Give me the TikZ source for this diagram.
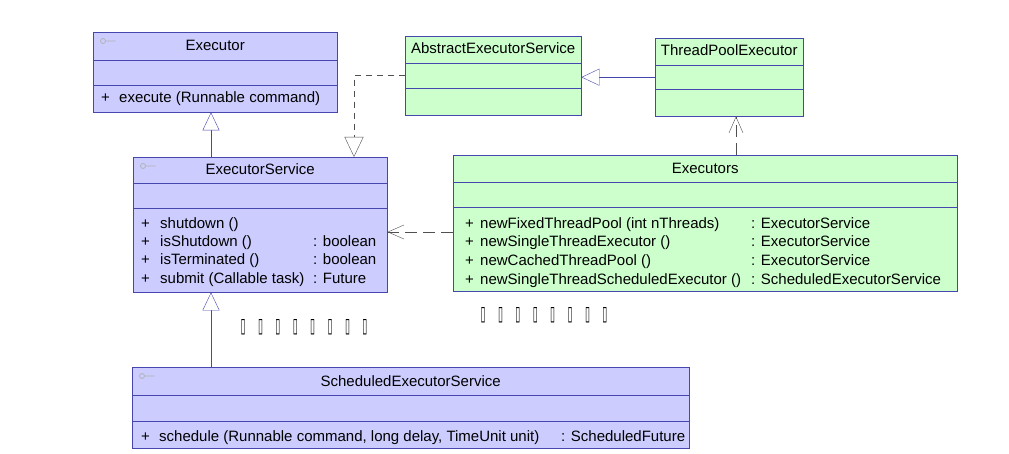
\documentclass[tikz,border=0pt]{standalone}
\usepackage{fontspec,graphicx}
\setmainfont{Liberation Sans}
\newfontfamily\dejavu{DejaVu Sans}
\usetikzlibrary{calc,arrows.meta}

\definecolor{umlblue}{RGB}{70,70,175}
\definecolor{ifacefill}{RGB}{204,204,255}
\definecolor{classfill}{RGB}{204,255,204}
\definecolor{depgray}{RGB}{80,80,80}

\newcommand{\tofu}{\resizebox{5pt}{13pt}{\dejavu ▯}}
\newcommand{\tofurow}{\tofu\foreach\k in {1,...,7}{\hspace{12.4pt}\tofu}}

\tikzset{
  iface/.style={draw=umlblue,fill=ifacefill,rectangle,inner sep=0pt,anchor=north west},
  cls/.style={draw=umlblue,fill=classfill,rectangle,inner sep=0pt,anchor=north west},
  txt/.style={inner sep=0pt,font=\fontsize{15}{17}\selectfont},
  op/.style={txt,anchor=base west},
  title/.style={txt,anchor=base},
  gen/.style={draw=umlblue,-{Triangle[open,length=18pt,width=17pt,fill=white]}},
  real/.style={draw=depgray,dash pattern=on 6pt off 5pt,-{Triangle[open,length=20pt,width=19pt,fill=white]}},
  dep/.style={draw=depgray,dash pattern=on 12pt off 6pt,-{Straight Barb[length=16pt,width=14pt]}},
  icon/.style={draw=gray!60,line width=0.8pt}
}

\begin{document}
\begin{tikzpicture}[x=1pt,y=-1pt]
\useasboundingbox (0,0) rectangle (1009,454);

% interfaces
\node[iface,minimum width=244pt,minimum height=80pt] (Executor) at (93,32) {};
\draw[umlblue] ($(Executor.north west)+(0,28)$) -- ($(Executor.north east)+(0,28)$);
\draw[umlblue] ($(Executor.north west)+(0,53)$) -- ($(Executor.north east)+(0,53)$);
\draw[icon] ($(Executor.north west)+(10,9)$) circle[radius=2.5pt] ++(2.5,0) -- ++(10,0);
\node[title] (Executor-name) at ($(Executor.north)+(0,19)$) {Executor};
\node[op] (ex-plus) at (101,103) {+};
\node[op] (ex-op) at (119,103) {execute (Runnable command)};

\node[iface,minimum width=254pt,minimum height=135pt] (ES) at (133,157) {};
\draw[umlblue] ($(ES.north west)+(0,26)$) -- ($(ES.north east)+(0,26)$);
\draw[umlblue] ($(ES.north west)+(0,51)$) -- ($(ES.north east)+(0,51)$);
\draw[icon] ($(ES.north west)+(10,9)$) circle[radius=2.5pt] ++(2.5,0) -- ++(10,0);
\node[title] (ES-name) at ($(ES.north)+(0,18)$) {ExecutorService};
\foreach \op/\ret [count=\i] in {shutdown ()/{}, isShutdown ()/: boolean, isTerminated ()/: boolean, submit (Callable task)/: Future} {
  \node[op] (es-plus\i) at (141,{210+18.3*\i}) {+};
  \node[op] (es-op\i) at (160,{210+18.3*\i}) {\op};
  \node[op] (es-ret\i) at (313,{210+18.3*\i}) {\ret};
}

\node[iface,minimum width=557pt,minimum height=81pt] (SES) at (132,367) {};
\draw[umlblue] ($(SES.north west)+(0,28)$) -- ($(SES.north east)+(0,28)$);
\draw[umlblue] ($(SES.north west)+(0,54)$) -- ($(SES.north east)+(0,54)$);
\draw[icon] ($(SES.north west)+(10,9)$) circle[radius=2.5pt] ++(2.5,0) -- ++(10,0);
\node[title] (SES-name) at ($(SES.north)+(0,19)$) {ScheduledExecutorService};
\node[op] (ses-plus) at (141,441) {+};
\node[op] (ses-op) at (159,441) {schedule (Runnable command, long delay, TimeUnit unit)};
\node[op] (ses-ret) at (561,441) {: ScheduledFuture};

% classes
\node[cls,minimum width=176pt,minimum height=79pt] (AES) at (405,36) {};
\draw[umlblue] ($(AES.north west)+(0,27)$) -- ($(AES.north east)+(0,27)$);
\draw[umlblue] ($(AES.north west)+(0,52)$) -- ($(AES.north east)+(0,52)$);
\node[title] (AES-name) at ($(AES.north)+(0,18)$) {AbstractExecutorService};

\node[cls,minimum width=148pt,minimum height=78pt] (TPE) at (655,38) {};
\draw[umlblue] ($(TPE.north west)+(0,27)$) -- ($(TPE.north east)+(0,27)$);
\draw[umlblue] ($(TPE.north west)+(0,51)$) -- ($(TPE.north east)+(0,51)$);
\node[title] (TPE-name) at ($(TPE.north)+(0,18)$) {ThreadPoolExecutor};

\node[cls,minimum width=504pt,minimum height=136pt] (Executors) at (453,155) {};
\draw[umlblue] ($(Executors.north west)+(0,27)$) -- ($(Executors.north east)+(0,27)$);
\draw[umlblue] ($(Executors.north west)+(0,52)$) -- ($(Executors.north east)+(0,52)$);
\node[title] (Executors-name) at ($(Executors.north)+(0,19)$) {Executors};
\foreach \op/\ret [count=\i] in {newFixedThreadPool (int nThreads)/: ExecutorService, newSingleThreadExecutor ()/: ExecutorService, newCachedThreadPool ()/: ExecutorService, newSingleThreadScheduledExecutor ()/: ScheduledExecutorService} {
  \node[op] (exs-plus\i) at (465,{210+18.5*\i}) {+};
  \node[op] (exs-op\i) at (480,{210+18.5*\i}) {\op};
  \node[op] (exs-ret\i) at (751,{210+18.5*\i}) {\ret};
}

% connectors
\coordinate (inh) at (211,0);
\draw[gen] (ES.north -| inh) -- (Executor.south -| inh);
\draw[gen] (SES.north -| inh) -- (ES.south -| inh);
\draw[gen] (TPE.west) -- (TPE.west -| AES.east);
\coordinate (rl) at (354,0);
\draw[real] (AES.west) -| (ES.north -| rl);
\coordinate (dp) at (736,232);
\draw[dep] (Executors.west |- dp) -- (ES.east |- dp);
\draw[dep] (Executors.north -| dp) -- (TPE.south -| dp);

% unreadable notes
\node[txt] (note1) at (304,327) {\tofurow};
\node[txt] (note2) at (544,315) {\tofurow};
\end{tikzpicture}
\end{document}
